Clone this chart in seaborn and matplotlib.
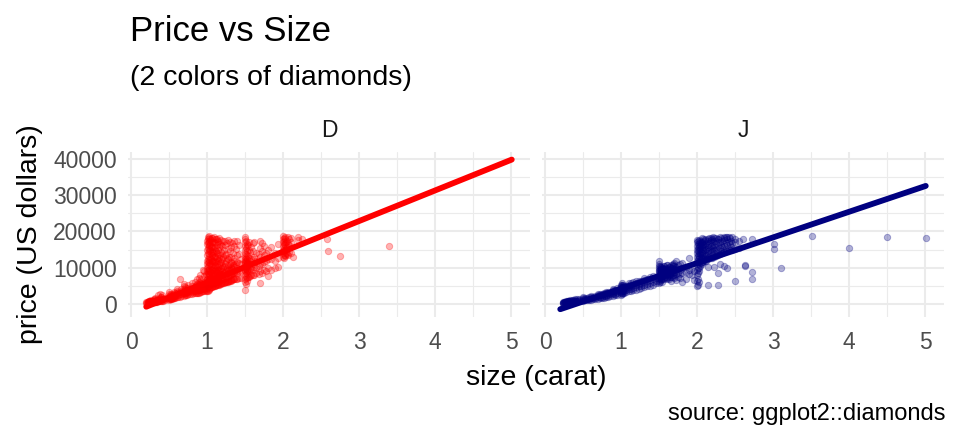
import matplotlib
matplotlib.use("Agg")
import matplotlib.pyplot as plt
import pandas as pd
import numpy as np
import seaborn as sns

# ---- data (carat groups and the prices seen at each) ----
d_carat = [0.20, 0.21, 0.22, 0.23, 0.24, 0.25, 0.26, 0.27, 0.28, 0.29,
           0.30, 0.31, 0.32, 0.33, 0.34, 0.35, 0.36, 0.38, 0.40, 0.41,
           0.42, 0.45, 0.50, 0.51, 0.52, 0.53, 0.54, 0.55, 0.56, 0.57,
           0.58, 0.60, 0.62, 0.64, 0.66, 0.70, 0.71, 0.72, 0.73, 0.75,
           0.78, 0.80, 0.82, 0.85, 0.88, 0.90, 0.91, 0.93, 0.95, 0.98,
           1.00, 1.01, 1.02, 1.03, 1.04, 1.05, 1.06, 1.08, 1.10, 1.12,
           1.15, 1.20, 1.23, 1.26, 1.30, 1.35, 1.40, 1.45, 1.50, 1.51,
           1.52, 1.53, 1.55, 1.60, 1.65, 1.70, 1.75, 1.80, 1.89, 2.00,
           2.01, 2.02, 2.04, 2.06, 2.10, 2.13, 2.20, 2.25, 2.58, 2.59,
           2.75, 3.40,
           0.84, 0.87, 0.92, 0.96, 0.99, 1.07, 1.09, 1.11, 1.13, 1.14,
           1.16, 1.17, 1.18, 1.19, 1.21, 1.22, 1.24, 1.25, 1.27, 1.28,
           1.29, 1.31, 1.32, 1.33, 1.34, 1.36, 1.38, 1.42, 1.54, 1.56,
           1.58, 1.62, 1.68, 1.72, 1.78, 1.84, 1.93, 2.03, 2.05, 2.08]
d_price = [[360, 480], [400, 550], [420, 600, 700], [450, 520, 800, 1000],
           [480, 650, 900], [500, 700, 1000], [520, 800, 1100], [560, 650, 900],
           [600, 750, 1000], [620, 850],
           [500, 650, 800, 950, 1200, 1500], [600, 750, 950, 1300],
           [650, 800, 1000, 1800], [700, 900, 1100], [700, 850, 1200],
           [750, 1000, 1400, 2600], [800, 950], [850, 1100, 1600, 2700],
           [900, 1100, 1300, 1900, 2100], [1000, 1400, 2400],
           [1000, 1500], [1100, 1300, 1700], [1200, 1500, 1800, 2200, 2800, 3300],
           [1300, 1700, 2000, 2500], [1400, 1900, 2300], [1500, 2100, 2700],
           [1500, 1800, 2400], [1600, 2000, 2900], [1700, 2200, 3300], [1800, 2500],
           [1800, 2300, 3000], [1900, 2400, 3000, 3600, 4200], [2000, 2600, 3300],
           [2100, 2800, 6900], [2200, 2900, 3600, 4300],
           [2300, 2800, 3200, 3700, 4200, 5000, 5600], [2400, 3000, 3400, 4000, 4600],
           [2500, 3100, 3600, 4500], [2600, 3300, 3900], [2700, 3300, 3800, 4400, 5200],
           [2800, 3500, 4100], [2900, 3400, 3800, 4300, 5000, 5800], [3000, 3600, 4300],
           [3100, 3700, 4500, 5200], [3200, 3900, 4700],
           [3200, 3800, 4300, 4800, 5500, 6200, 7200],
           [3300, 4000, 4600, 5200, 6000, 8000], [3500, 4200, 5000],
           [3600, 4400, 5300, 9500], [3800, 4600],
           [3500, 4500, 5200, 6000, 7000, 8000, 9000, 10000, 11000, 12000, 13500,
            15000, 16500, 17500],
           [3700, 4800, 5500, 6500, 7500, 8500, 9500, 10500, 11500, 12500, 14000,
            15500, 16800, 17800, 18500],
           [4000, 5000, 6000, 7000, 8000, 9200, 10800, 12200, 13800, 15200, 16200,
            17200, 18200],
           [4200, 5500, 6800, 8200, 9800, 11500, 13000, 14500, 16000, 17500, 18700],
           [4500, 6000, 7500, 9000, 11000, 12800, 14800, 16500, 18000],
           [4600, 5800, 7200, 8800, 10500, 12500, 14200, 15800, 17600],
           [4800, 6200, 7800, 9500, 11800, 13500, 16000, 18300],
           [5000, 6500, 8000, 10000, 12000, 14000, 17000],
           [5000, 6800, 8500, 10500, 13000, 15500, 17800],
           [5200, 7000, 9000, 11500, 14500, 18000],
           [5500, 7200, 9500, 12000, 15000, 17200],
           [5800, 7500, 9000, 10500, 12500, 14000, 16000],
           [6000, 8000, 11000, 13500, 17500], [6200, 8500, 10000, 12800, 16800],
           [6500, 8000, 9500, 11000, 14500, 17000], [6800, 8800, 10200, 12000, 16000],
           [7000, 8500, 10000, 11500, 13500, 17300], [7200, 9000, 11000, 12500],
           [3900, 6000, 7000, 8000, 9000, 9500, 10000, 10500, 11000, 11500, 12000,
            12500, 13000, 14000, 15000, 16000, 17000, 18000, 18600],
           [5500, 7500, 8500, 9700, 10800, 11800, 12800, 13800, 15500, 17500],
           [6500, 8200, 9300, 10300, 11300, 12300, 14500, 16500],
           [7200, 9000, 10400, 11600, 13500, 16000],
           [7500, 9200, 11000, 12800, 15000, 17000],
           [8000, 9500, 11000, 12500, 14500, 16800], [8500, 10000, 12000, 14000],
           [5800, 9000, 11000, 13000, 15500, 17500], [9500, 11500, 13500, 16000],
           [7800, 10000, 12500, 15000], [9900, 12000, 14000],
           [13000, 14000, 15000, 16000, 17000, 18000, 18700],
           [12800, 13500, 14500, 15500, 16500, 17500, 18300],
           [13200, 14800, 16200, 17800], [14000, 15500, 17200],
           [13500, 16500, 18400], [14200, 17000, 18200], [13000],
           [17600, 18500], [17800], [17900], [14700], [13200], [16000],
           [3000, 3600, 4200, 5000, 6000], [3100, 3800, 4600, 5500, 6800],
           [3400, 4100, 4900, 5800, 7000], [3600, 4300, 5100, 6200, 7800, 9000],
           [3700, 4500, 5400, 6600, 8200],
           [4700, 5600, 6600, 7600, 8700, 9800, 11000, 12200, 13400, 14600, 15800,
            17000, 18200],
           [4900, 5800, 6900, 8000, 9100, 10300, 11600, 12900, 14300, 15700, 17200,
            18500],
           [5100, 6000, 7100, 8200, 9400, 10700, 12000, 13300, 15000, 16800],
           [5200, 6200, 7300, 8500, 9700, 11000, 12600, 14000, 16300, 17800],
           [5300, 6400, 7600, 8900, 10300, 12100, 13800, 17300],
           [5400, 6500, 7700, 9100, 10800, 12800, 15600, 18100],
           [5500, 6600, 7900, 9300, 11200, 13600, 16500],
           [5600, 6800, 8100, 9600, 11600, 14300, 17700],
           [5700, 6900, 8300, 9900, 12300, 16200],
           [5800, 7000, 8400, 10200, 13000, 17400], [5900, 7200, 8700, 10600, 14800],
           [6000, 7300, 8900, 11200, 16300], [6100, 7500, 9100, 11800, 13800],
           [6200, 7600, 9300, 10900, 15200], [6300, 7700, 9500, 12400, 17600],
           [6400, 7900, 9800, 13100], [6500, 8000, 10000, 11600, 15700],
           [6600, 8200, 10300, 12900], [6700, 8300, 9600, 11400, 16900],
           [6800, 8500, 10700, 14200], [6900, 8600, 10900, 12700, 17400],
           [7000, 8800, 11100, 15300], [7200, 9000, 11300, 13700, 16400],
           [7600, 9400, 11200, 13300, 16200], [7700, 9700, 11800, 14400],
           [7900, 9900, 12300, 15700], [8100, 10200, 13100, 17200],
           [8400, 10600, 13900], [8700, 11100, 14700, 16900], [9000, 11900, 14200],
           [9300, 12400, 15800], [10200, 12800, 16500],
           [13400, 15000, 16800, 18500], [13800, 15800, 17500], [14300, 16300, 18000]]

j_carat = [0.23, 0.24, 0.25, 0.26, 0.27, 0.28, 0.29, 0.30, 0.31, 0.32,
           0.33, 0.35, 0.37, 0.40, 0.42, 0.45, 0.50, 0.52, 0.55, 0.58,
           0.60, 0.63, 0.66, 0.70, 0.72, 0.75, 0.78, 0.80, 0.83, 0.86,
           0.90, 0.92, 0.95, 1.00, 1.01, 1.02, 1.04, 1.07, 1.10, 1.13,
           1.16, 1.20, 1.23, 1.26, 1.30, 1.34, 1.38, 1.42, 1.46, 1.50,
           1.51, 1.52, 1.54, 1.56, 1.60, 1.63, 1.66, 1.70, 1.72, 1.75,
           1.78, 1.80, 1.85, 1.90, 1.93, 1.96, 2.00, 2.01, 2.02, 2.04,
           2.06, 2.08, 2.10, 2.12, 2.15, 2.18, 2.20, 2.22, 2.25, 2.28,
           2.30, 2.33, 2.36, 2.40, 2.43, 2.46, 2.50, 2.55, 2.60, 2.63,
           2.73, 3.01, 3.11, 3.51, 4.00, 4.50, 5.01,
           1.53, 1.57, 1.58, 1.61, 1.64, 1.68, 1.69, 2.03, 2.05, 2.07,
           2.09, 2.11, 2.14, 2.16, 2.19, 2.21, 2.24, 2.27, 2.32, 2.35,
           2.38, 2.42, 2.45]
j_price = [[350, 450], [380, 500], [400, 550, 700], [420, 600], [450, 650, 800],
           [480, 700], [500, 750], [450, 550, 700, 850, 1000], [500, 650, 800],
           [550, 700, 900], [600, 800, 1050], [650, 850, 1100], [700, 900, 1200],
           [750, 950, 1150, 1400], [800, 1000, 1300], [900, 1100, 1400],
           [1000, 1200, 1450, 1700, 2000], [1050, 1350, 1650], [1100, 1400, 1800],
           [1200, 1550, 1900], [1250, 1600, 2000, 2300], [1350, 1700, 2100],
           [1450, 1800, 2200], [1500, 1900, 2200, 2500, 2900], [1600, 2000, 2400, 2800],
           [1700, 2100, 2500, 2900], [1800, 2200, 2700, 3100],
           [1900, 2300, 2600, 3000, 3400], [2000, 2500, 3000, 3400], [2200, 2700, 3200],
           [2300, 2700, 3100, 3500, 3900, 4300], [2400, 2900, 3400, 3800],
           [2500, 3000, 3500, 4000, 4500],
           [2600, 3000, 3400, 3800, 4200, 4600, 5000, 5400],
           [2800, 3200, 3600, 4000, 4400, 4800, 5200, 5700],
           [3000, 3500, 4100, 4700, 5300], [3100, 3700, 4300, 4900],
           [3300, 3900, 4500, 5100], [3500, 4100, 4700, 5300, 5900],
           [3700, 4300, 5000, 5700], [3800, 4500, 5200, 6000],
           [4000, 4600, 5200, 5800, 6400], [4200, 4900, 5600, 6300],
           [4400, 5100, 5800, 6500], [4600, 5300, 6000, 6700, 7300],
           [4900, 5600, 6300, 7000], [5100, 5900, 6600, 7400], [5400, 6200, 7000, 7800],
           [5700, 6500, 7300],
           [5800, 6500, 7000, 7500, 8000, 8500, 9000, 9500, 10000, 10500, 11000, 11800],
           [6200, 7200, 7800, 8400, 9200, 9800, 10400],
           [6600, 7600, 8200, 8800, 9600, 10200],
           [6000, 7000, 8000, 8600, 9400, 10000], [7300, 8100, 8900, 9700, 10600],
           [6800, 7600, 8400, 9200, 10000, 10800], [7000, 7900, 8700, 9500, 10300],
           [6400, 7400, 8300, 9100, 10000, 10900],
           [7100, 8000, 8800, 9600, 10500, 11300], [6600, 8200, 9400, 10200, 11900],
           [7500, 8600, 9700, 10800], [7200, 8400, 9500, 11000],
           [6000, 8700, 10000, 11200], [6800, 8800, 10300], [8200, 9500, 12700],
           [8000, 10000], [6600, 9000],
           [5000, 6500, 8000, 9500, 11000, 12000, 13000, 14000, 15000, 16000, 17000, 17700],
           [5300, 7000, 8600, 10000, 11500, 12500, 13500, 14500, 15500, 16500, 17300],
           [6000, 9000, 11000, 12800, 14200, 15800, 16800],
           [10500, 12200, 13800, 15200, 16200, 17500],
           [11000, 12600, 14000, 15600, 17000], [11500, 13000, 14800, 16300, 17800],
           [11800, 13300, 15000, 16600, 18000], [12000, 13600, 15300, 16900],
           [5200, 10300, 12300, 14000, 15600, 17300],
           [12600, 14300, 16000, 17600, 18300], [12800, 14500, 16200, 17800],
           [10200, 13000, 14800, 16400, 18100], [13200, 15000, 16700, 18300],
           [5200, 8700, 13500, 15300, 17000, 18000],
           [11000, 13800, 15500, 17200, 18500], [14000, 15800, 17500],
           [10500, 14300, 16000, 17700, 18400], [10000, 14600, 16300, 17900, 18600],
           [14800, 16600, 18200], [15000, 16800, 18500], [6400, 15200, 17000, 18000],
           [15500, 17300], [17900], [10800, 10600],
           [6900, 8900, 17900], [16500, 15200], [9850], [18700], [15400], [18600], [18100],
           [6800, 7800, 8600, 9400, 10300], [7000, 7900, 8700, 9600, 10400],
           [7500, 8300, 9100, 9900], [7200, 8100, 8900, 9800, 10700],
           [7400, 8400, 9300, 10100], [7600, 8600, 9500, 10400, 11100],
           [8000, 9000, 9900, 10900],
           [10000, 11600, 13200, 14800, 16000, 17600], [11200, 12900, 14400, 16000, 17200],
           [11600, 13400, 15200, 16800, 18200], [12100, 13900, 15600, 17400],
           [12400, 14200, 16000, 17700], [12700, 14600, 16400, 18000],
           [13000, 14900, 16700, 18200], [13300, 15200, 17000],
           [13500, 15400, 17300, 18500], [13800, 15700, 17500], [14100, 16000, 17800],
           [14500, 16300, 18100], [14700, 16500, 18300], [15000, 16800, 18400],
           [15300, 17100, 18500], [15600, 17400]]

facet_labels = ["D", "J"]
facet_colors = ["#FF0000", "#000080"]
fit_intercept = [-2383, -2790]
fit_slope = [8417, 7052]

title = "Price vs Size"
subtitle = "(2 colors of diamonds)"
x_title = "size (carat)"
y_title = "price (US dollars)"
caption = "source: ggplot2::diamonds"


def expand(carats, prices):
    rows = [(c, p) for c, ps in zip(carats, prices) for p in ps]
    return pd.DataFrame(rows, columns=["carat", "price"])


frames = [expand(d_carat, d_price), expand(j_carat, j_price)]
carat_lo = min(d_carat + j_carat)
carat_hi = max(d_carat + j_carat)

sns.set_theme(style="white")
plt.rcParams["font.family"] = ["Liberation Sans", "DejaVu Sans"]

fig = plt.figure(figsize=(9.6, 4.41), dpi=100)
ax_rect = [[128 / 960, 124.3 / 441, 402 / 960, 164.6 / 441],
           [542 / 960, 124.3 / 441, 402 / 960, 164.6 / 441]]

for i, df in enumerate(frames):
    ax = fig.add_axes(ax_rect[i])
    ax.set_xlim(-0.04, 5.25)
    ax.set_ylim(-3440, 41844)
    ax.set_xticks(np.arange(0, 6, 1))
    ax.set_xticks(np.arange(0.5, 5.0, 1), minor=True)
    ax.set_yticks(np.arange(0, 40001, 10000))
    ax.set_yticks(np.arange(5000, 40000, 10000), minor=True)
    ax.grid(True, which="major", color="#EBEBEB", lw=1.5, zorder=0)
    ax.grid(True, which="minor", color="#EBEBEB", lw=0.8, zorder=0)
    ax.set_axisbelow(True)
    ax.tick_params(which="both", length=0, labelsize=16.5, labelcolor="#4D4D4D")
    ax.tick_params(axis="x", pad=10)
    ax.tick_params(axis="y", pad=8)
    sns.despine(ax=ax, left=True, right=True, bottom=True, top=True)

    sns.scatterplot(data=df, x="carat", y="price", ax=ax, color=facet_colors[i],
                    alpha=0.3, s=21, linewidth=0.7, edgecolor=facet_colors[i],
                    legend=False, zorder=2)

    fit_x = np.array([carat_lo, carat_hi])
    fit_y = fit_intercept[i] + fit_slope[i] * fit_x
    sns.lineplot(x=fit_x, y=fit_y, ax=ax, color=facet_colors[i], lw=4.2, zorder=3)

    ax.set_xlabel("")
    ax.set_ylabel("")
    if i == 1:
        ax.set_yticklabels([])
    else:
        ax.set_yticklabels([f"{int(v)}" for v in ax.get_yticks()])

    cx = ax_rect[i][0] + ax_rect[i][2] / 2
    fig.text(cx, 1 - 130.5 / 441, facet_labels[i], ha="center", va="center",
             fontsize=16.5, color="#1A1A1A")

fig.text(130 / 960, 1 - 41 / 441, title, fontsize=25, ha="left", va="baseline",
         color="black")
fig.text(130 / 960, 1 - 85 / 441, subtitle, fontsize=20.5, ha="left", va="baseline",
         color="black")
fig.text(536 / 960, 1 - 385 / 441, x_title, fontsize=20.5, ha="center", va="baseline",
         color="black")
fig.text(30 / 960, 1 - 234.5 / 441, y_title, fontsize=20.5, ha="center", va="center",
         rotation=90, color="black")
fig.text(945 / 960, 1 - 420 / 441, caption, fontsize=17, ha="right", va="baseline",
         color="black")

fig.savefig("out.png", dpi=100)
